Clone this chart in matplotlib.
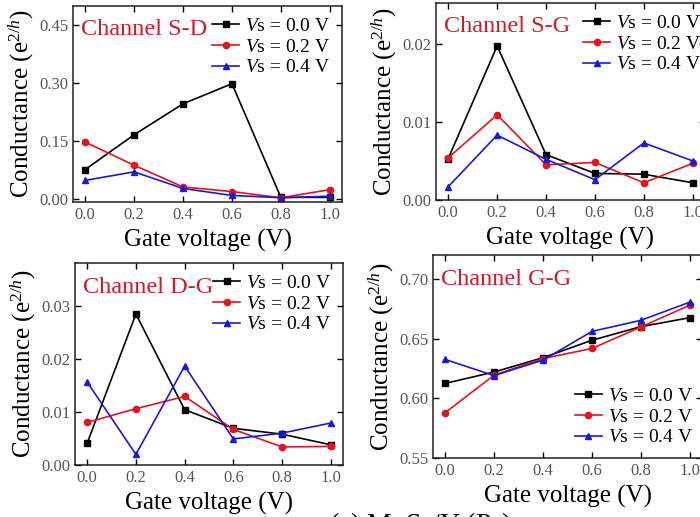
import numpy as np
import matplotlib
matplotlib.use("Agg")
import matplotlib.pyplot as plt

plt.rcParams['font.family'] = ['Liberation Serif', 'DejaVu Serif']
plt.rcParams['mathtext.fontset'] = 'custom'
plt.rcParams['mathtext.rm'] = 'Liberation Serif'
plt.rcParams['mathtext.it'] = 'Liberation Serif:italic'

gate = [0.0, 0.2, 0.4, 0.6, 0.8, 1.0]
vs_labels = [r"$V$s = 0.0 V", r"$V$s = 0.2 V", r"$V$s = 0.4 V"]

# channel S-D
sd_00 = [0.077, 0.167, 0.247, 0.299, 0.005, 0.005]
sd_02 = [0.148, 0.088, 0.032, 0.020, 0.004, 0.025]
sd_04 = [0.049, 0.071, 0.028, 0.010, 0.004, 0.008]
# channel S-G
sg_00 = [0.0053, 0.0197, 0.0058, 0.0034, 0.0033, 0.0022]
sg_02 = [0.0054, 0.0109, 0.0045, 0.0048, 0.0022, 0.0047]
sg_04 = [0.0017, 0.0083, 0.0052, 0.0026, 0.0073, 0.0050]
# channel D-G
dg_00 = [0.0041, 0.0284, 0.0104, 0.0069, 0.0058, 0.0038]
dg_02 = [0.0080, 0.0106, 0.0129, 0.0067, 0.0034, 0.0035]
dg_04 = [0.0156, 0.0020, 0.0186, 0.0049, 0.0060, 0.0079]
# channel G-G
gg_00 = [0.6125, 0.622, 0.634, 0.6486, 0.660, 0.6675]
gg_02 = [0.588, 0.6194, 0.6333, 0.6417, 0.6597, 0.678]
gg_04 = [0.6325, 0.619, 0.632, 0.656, 0.6653, 0.6805]

colors = ['black', '#e3141c', '#1a1ad6']
markers = ['s', 'o', '^']

fig = plt.figure(figsize=(7, 5.17), dpi=100)

# title, data, axes rect, ylim, yticks, legend loc, legend anchor
panels = [
    ("Channel S-D", [sd_00, sd_02, sd_04], [73/700, 315/517, 269/700, 196/517],
     (-0.007, 0.5), [0, 0.15, 0.30, 0.45], 'upper right', (1.0, 1.0)),
    ("Channel S-G", [sg_00, sg_02, sg_04], [436/700, 317/517, 269/700, 197/517],
     (0, 0.0252), [0, 0.01, 0.02], 'upper right', (1.03, 1.0)),
    ("Channel D-G", [dg_00, dg_02, dg_04], [75/700, 52/517, 268/700, 202/517],
     (0, 0.038), [0, 0.01, 0.02, 0.03], 'upper right', (1.0, 1.0)),
    ("Channel G-G", [gg_00, gg_02, gg_04], [433/700, 59/517, 269/700, 203/517],
     (0.55, 0.72), [0.55, 0.60, 0.65, 0.70], 'lower right', (1.01, 0.0)),
]

for title, series, rect, ylim, yt, loc, anchor in panels:
    ax = fig.add_axes(rect)
    for vals, c, m, lab in zip(series, colors, markers, vs_labels):
        ax.plot(gate, vals, color=c, marker=m, markersize=4.5, linewidth=1.2, label=lab)
    ax.set_xlim(-0.05, 1.05)
    ax.set_ylim(*ylim)
    ax.set_xticks(gate)
    ax.set_xticklabels(["%.1f" % g for g in gate])
    ax.set_yticks(yt)
    ax.set_yticklabels(["%.2f" % v for v in yt])
    ax.tick_params(direction='in', top=True, right=True, labelsize=12,
                   labelcolor='#555555', length=4, width=1)
    for s in ax.spines.values():
        s.set_linewidth(1.1)
        s.set_color('#222222')
    ax.set_xlabel("Gate voltage (V)", fontsize=18, labelpad=4)
    ax.set_ylabel(r"Conductance (e$^{2/h}$)", fontsize=18, labelpad=2)
    ax.text(0.03, 0.88, title, transform=ax.transAxes, color='#c8202a',
            fontsize=17.5, va='center', ha='left')
    ax.legend(loc=loc, bbox_to_anchor=anchor, frameon=False, fontsize=14,
              handlelength=1.4, handletextpad=0.3, labelspacing=0.15,
              borderaxespad=0.2)

fig.text(0.6, -0.015, r"(c) MoS$_2$/Y (Ps)", fontsize=20, ha='center', va='center')

fig.savefig("out.png", dpi=100)
